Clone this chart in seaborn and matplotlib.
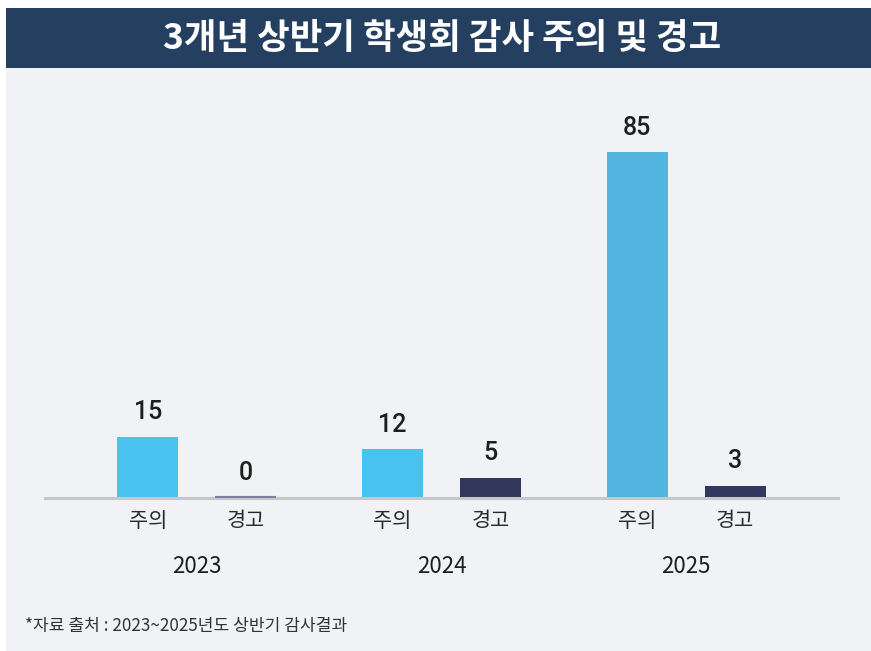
import pandas as pd
import matplotlib.pyplot as plt
import seaborn as sns
from matplotlib.patches import Rectangle

years = ['2023', '2024', '2025']
kinds = ['주의', '경고']
caution = [15, 12, 85]
warning = [0, 5, 3]

title = '3개년 상반기 학생회 감사 주의 및 경고'
source = '*자료 출처 : 2023~2025년도 상반기 감사결과'

df = pd.DataFrame({
    'year': years * 2,
    'kind': [kinds[0]] * len(years) + [kinds[1]] * len(years),
    'count': caution + warning,
})

sns.set_style('white')
plt.rcParams['font.family'] = ['Noto Sans CJK KR', 'DejaVu Sans']

fig = plt.figure(figsize=(8.71, 6.51), dpi=100)
fig.patch.set_facecolor('white')

# background panel and title band
fig.patches.append(Rectangle((6 / 871, 0), 1, 583 / 651, transform=fig.transFigure,
                             facecolor='#f0f2f5', edgecolor='none', zorder=-2))
fig.patches.append(Rectangle((6 / 871, 583 / 651), 1, 60 / 651, transform=fig.transFigure,
                             facecolor='#243f5f', edgecolor='none', zorder=-2))
fig.text(0.508, 613 / 651, title, color='white', fontsize=25.5, fontweight='heavy',
         ha='center', va='center')

ax = fig.add_axes([45 / 871, 153 / 651, 793 / 871, 407 / 651])
ax.set_facecolor('none')
ax.set_zorder(2)

sns.barplot(data=df, x='year', y='count', hue='kind', order=years, hue_order=kinds,
            palette={'주의': '#48c3f0', '경고': '#33375e'}, width=0.8, gap=0.38,
            saturation=1, legend=False, linewidth=0, ax=ax)

# 2025 caution bar is a slightly different blue
ax.containers[0].patches[2].set_facecolor('#52b5df')

for cont in ax.containers:
    ax.bar_label(cont, padding=9, fontsize=18, color='#1e1e1e', fontweight='medium',
                 family=['Roboto', 'DejaVu Sans'])

for cont, kind in zip(ax.containers, kinds):
    for p in cont.patches:
        xc = p.get_x() + p.get_width() / 2
        if p.get_height() == 0:
            # zero bar still shows as a thin line on the baseline
            p.set_edgecolor('#7b7e9c')
            p.set_linewidth(3)
            p.set_zorder(3)
        ax.annotate(kind, xy=(xc, 0), xycoords=('data', 'axes fraction'),
                    xytext=(0, -23), textcoords='offset pixels',
                    ha='center', va='center', fontsize=15, color='#2a2a2a',
                    annotation_clip=False)

ax.set_xlim(-0.62, 2.62)
ax.set_ylim(0, 100)
ax.set_xlabel('')
ax.set_ylabel('')
ax.set_yticks([])
ax.tick_params(axis='x', length=0, pad=41, labelsize=16, labelcolor='#1e1e1e')
for side in ['top', 'left', 'right']:
    ax.spines[side].set_visible(False)
ax.spines['bottom'].set_color('#c6c7cb')
ax.spines['bottom'].set_linewidth(2.2)

fig.text(25 / 871, 25 / 651, source, fontsize=12.3, color='#333333', ha='left', va='center')

fig.savefig('out.png', dpi=100)
